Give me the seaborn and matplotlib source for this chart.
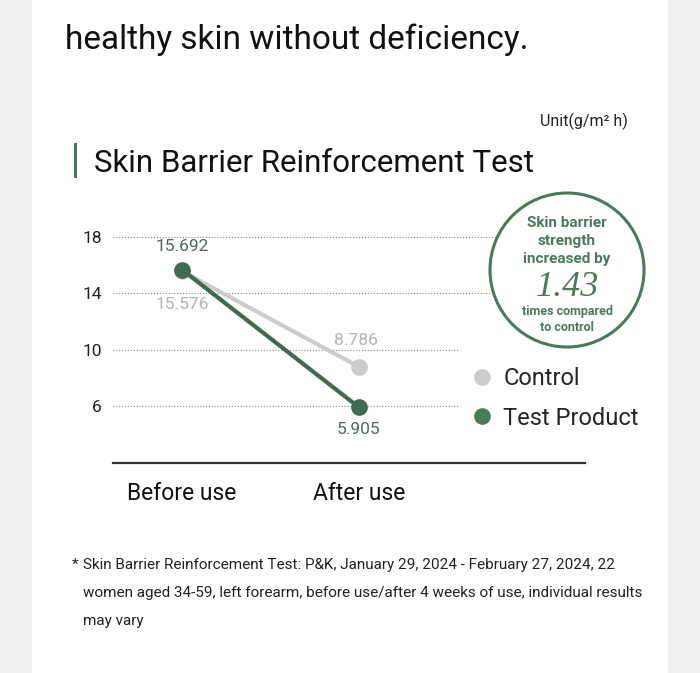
import matplotlib
matplotlib.use("Agg")
import matplotlib.pyplot as plt
import seaborn as sns
import pandas as pd
from matplotlib.lines import Line2D
from matplotlib.patches import Rectangle, Ellipse

# ---- data ----
categories = ["Before use", "After use"]
control_values = [15.576, 8.786]
test_values = [15.692, 5.905]
series_names = ["Control", "Test Product"]
y_ticks = [6, 10, 14, 18]

title_text = "healthy skin without deficiency."
chart_title = "Skin Barrier Reinforcement Test"
unit_text = "Unit(g/m² h)"
badge_lines = ["Skin barrier", "strength", "increased by"]
badge_number = "1.43"
badge_tail = ["times compared", "to control"]
footnote_lines = [
    "Skin Barrier Reinforcement Test: P&K, January 29, 2024 - February 27, 2024, 22",
    "women aged 34-59, left forearm, before use/after 4 weeks of use, individual results",
    "may vary",
]

sns.set_theme(style="white")
plt.rcParams['font.family'] = ['Roboto', 'DejaVu Sans']

GREEN = "#4a7a5c"
GREEN_LINE = "#3f6b50"
GREEN_TEXT = "#4e6a5a"
GRAY = "#cccccc"
GRAY_TEXT = "#b3b3b3"
W, H = 700, 673


def px(x, y):
    return (x / W, 1 - y / H)


fig = plt.figure(figsize=(7, 6.73), dpi=100, facecolor="#f1f0ee")
fig.add_artist(Rectangle((32 / W, 0), 636 / W, 1, transform=fig.transFigure,
                         facecolor="white", edgecolor="none", zorder=-10))

ax = fig.add_axes([113 / W, 1 - 463 / H, 472 / W, 254 / H])
ax.set_facecolor("none")

positions = list(range(len(categories)))
df = pd.DataFrame({
    "pos": positions * 2,
    "value": control_values + test_values,
    "series": [series_names[0]] * len(categories) + [series_names[1]] * len(categories),
})
palette = {series_names[0]: GRAY, series_names[1]: GREEN_LINE}

# grid lines
for t in y_ticks:
    xmax = 2.0 if t >= 14 else 1.57
    ax.hlines(t, -0.39, xmax, colors="#8a8a8a", linestyles=(0, (1, 1.6)), lw=0.8, zorder=1)

sns.lineplot(data=df, x="pos", y="value", hue="series", palette=palette,
             marker="o", markersize=12, linewidth=3, markeredgewidth=0,
             legend=False, ax=ax, zorder=3)

# value labels
offsets_control = [-24, 19]
offsets_test = [17, -16]
for i, v in enumerate(control_values):
    ax.annotate(f"{v:.3f}", (positions[i], v), xytext=(-2 if i == 1 else 0, offsets_control[i]),
                textcoords="offset points", ha="center", va="center",
                fontsize=12.5, color=GRAY_TEXT)
for i, v in enumerate(test_values):
    ax.annotate(f"{v:.3f}", (positions[i], v), xytext=(0, offsets_test[i]),
                textcoords="offset points", ha="center", va="center",
                fontsize=12.5, color=GREEN_TEXT)

ax.set_xlim(-0.39, 2.277)
ax.set_ylim(1.95, 20)
ax.set_yticks(y_ticks)
ax.set_yticklabels([str(t) for t in y_ticks], fontsize=12.5, color="#222222")
ax.set_xticks(positions)
ax.set_xticklabels(categories, fontsize=16.5, color="#111111")
ax.tick_params(axis="y", length=0, pad=8)
ax.tick_params(axis="x", length=0, pad=14)
ax.set_xlabel("")
ax.set_ylabel("")
for s in ["top", "right", "left"]:
    ax.spines[s].set_visible(False)
ax.spines["bottom"].set_color("#333333")
ax.spines["bottom"].set_linewidth(1.6)

# legend
handles = [
    Line2D([], [], marker="o", ls="none", color=GRAY, markersize=12, markeredgewidth=0),
    Line2D([], [], marker="o", ls="none", color=GREEN, markersize=12, markeredgewidth=0),
]
fig.legend(handles, series_names, loc="upper left", bbox_to_anchor=px(468, 367),
           frameon=False, fontsize=17, handletextpad=0.3, labelspacing=0.7,
           borderaxespad=0, borderpad=0, handlelength=1.2)

# texts
fig.text(*px(65, 40), title_text, fontsize=24, va="center", color="#111111")
fig.text(*px(628, 121), unit_text, fontsize=11.5, va="center", ha="right", color="#222222")
fig.add_artist(Rectangle(px(74, 178), 3 / W, 35 / H, transform=fig.transFigure,
                         facecolor=GREEN, edgecolor="none"))
fig.text(*px(94, 163), chart_title, fontsize=22.5, va="center", color="#111111")

# badge
fig.add_artist(Ellipse(px(567, 270), 154 / W, 154 / H, transform=fig.transFigure,
                       facecolor="white", edgecolor=GREEN, lw=2.2, zorder=5))
for y, line in zip([223, 241, 259], badge_lines):
    fig.text(*px(567, y), line, fontsize=11, fontweight="bold", color=GREEN,
             ha="center", va="center", zorder=6)
fig.text(*px(567, 287), badge_number, fontsize=26, fontstyle="italic",
         family=["Liberation Serif", "DejaVu Serif"], color=GREEN,
         ha="center", va="center", zorder=6)
for y, line in zip([312, 327], badge_tail):
    fig.text(*px(567, y), line, fontsize=9, fontweight="bold", color=GREEN,
             ha="center", va="center", zorder=6)

# footnote
fig.text(*px(72, 565), "*", fontsize=11, va="center", color="#222222")
for y, line in zip([565, 593, 621], footnote_lines):
    fig.text(*px(83, y), line, fontsize=11, va="center", color="#222222")

fig.savefig("out.png", dpi=100, facecolor=fig.get_facecolor())
